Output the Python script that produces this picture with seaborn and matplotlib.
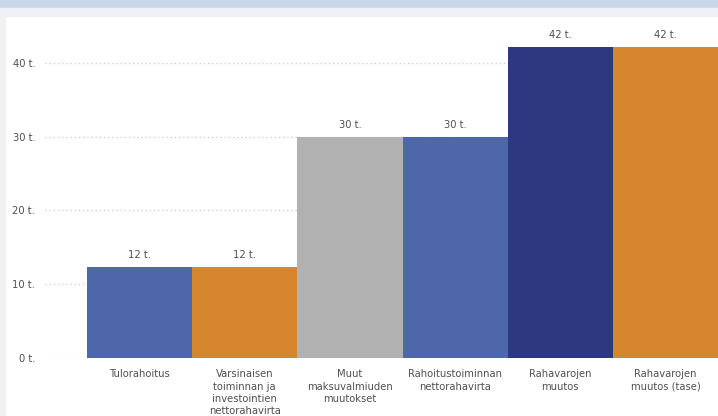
import matplotlib
matplotlib.use("Agg")
import matplotlib.pyplot as plt
import seaborn as sns
import pandas as pd
from matplotlib.patches import Rectangle

categories = [
    "Tulorahoitus",
    "Varsinaisen\ntoiminnan ja\ninvestointien\nnettorahavirta",
    "Muut\nmaksuvalmiuden\nmuutokset",
    "Rahoitustoiminnan\nnettorahavirta",
    "Rahavarojen\nmuutos",
    "Rahavarojen\nmuutos (tase)",
]
values = [12.4, 12.4, 29.9, 29.9, 42.2, 42.2]
value_labels = ["12 t.", "12 t.", "30 t.", "30 t.", "42 t.", "42 t."]
colors = ["#4E67A8", "#D6862C", "#B1B1B1", "#4E67A8", "#2E3880", "#D6862C"]
yticks = [0, 10, 20, 30, 40]
ytick_labels = ["0 t.", "10 t.", "20 t.", "30 t.", "40 t."]

df = pd.DataFrame({"cat": categories, "val": values})

sns.set_style("white")
plt.rcParams["font.family"] = ["DejaVu Sans"]

fig = plt.figure(figsize=(7.18, 4.16), dpi=100)
# screenshot-like frame at top/left
fig.patches.append(Rectangle((0, 1 - 8 / 416), 1, 8 / 416, transform=fig.transFigure,
                             color="#C9D7EA", zorder=0))
fig.patches.append(Rectangle((0, 1 - 16 / 416), 1, 8 / 416, transform=fig.transFigure,
                             color="#EEF1F5", zorder=0))
fig.patches.append(Rectangle((0, 0), 5 / 718, 1 - 16 / 416, transform=fig.transFigure,
                             color="#F1F1F1", zorder=0))

ax = fig.add_axes([45 / 718, 58 / 416, 673 / 718, (358 - 26) / 416])
sns.barplot(data=df, x="cat", y="val", hue="cat", palette=colors, width=1.0,
            legend=False, saturation=1, linewidth=0, ax=ax, zorder=3)

ax.set_xlim(-0.9, 5.5)
ax.set_ylim(0, 45)
ax.set_yticks(yticks)
ax.set_yticklabels(ytick_labels)
ax.set_xlabel("")
ax.set_ylabel("")
ax.grid(axis="y", linestyle=(0, (1, 2)), color="#D2D2D2", linewidth=1, zorder=0)
for s in ax.spines.values():
    s.set_visible(False)
ax.tick_params(axis="both", length=0, labelsize=7.2, colors="#505050")
ax.tick_params(axis="y", pad=7)
ax.tick_params(axis="x", pad=8)
for lab in ax.get_xticklabels():
    lab.set_linespacing(1.3)

for i, (v, t) in enumerate(zip(values, value_labels)):
    ax.annotate(t, (i, v), xytext=(0, 5), textcoords="offset points",
                ha="center", va="bottom", fontsize=7.2, color="#505050")

fig.savefig("out.png", dpi=100)
